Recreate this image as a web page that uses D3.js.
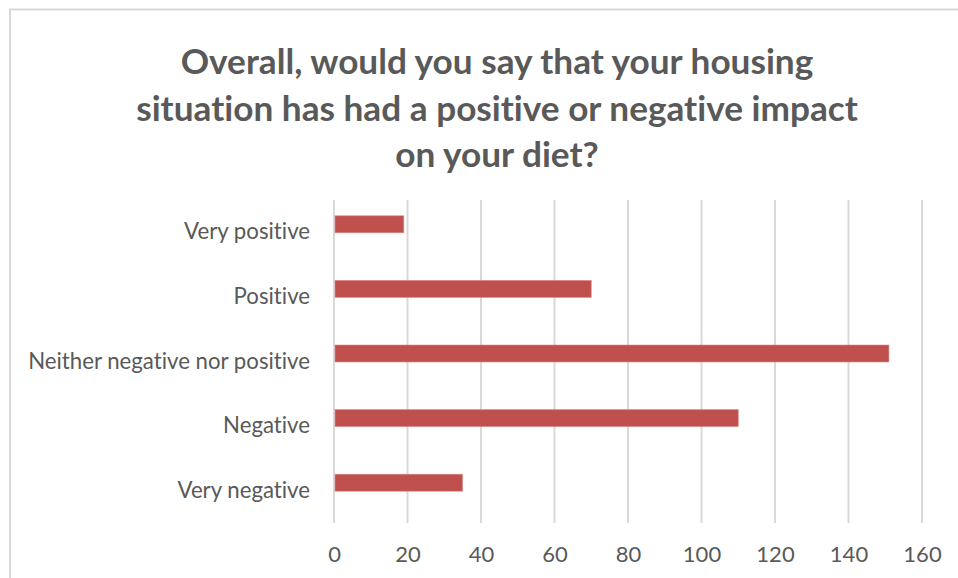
<!DOCTYPE html>
<html>
<head>
<meta charset="utf-8">
<script src="https://cdn.jsdelivr.net/npm/d3@7"></script>
<style>
  html, body { margin: 0; padding: 0; background: #fff; }
  svg { display: block; font-variant-ligatures: none; }
</style>
</head>
<body>
<svg id="chart" width="958" height="578"></svg>
<script>
// Survey responses: impact of housing situation on diet
const categories = ["Very positive", "Positive", "Neither negative nor positive", "Negative", "Very negative"];
const counts = [19, 70, 151, 110, 35];
const xTicks = [0, 20, 40, 60, 80, 100, 120, 140, 160];
const titleLines = [
  "Overall, would you say that your housing",
  "situation has had a positive or negative impact",
  "on your diet?"
];

const W = 958, H = 578;
const svg = d3.select("#chart");
const textColor = "#595959";
const gridColor = "#d9d9d9";
const barColor = "#c0504d";
const font = "Lato, 'Open Sans', sans-serif";

// chart frame
svg.append("rect")
  .attr("x", 10).attr("y", 9.5)
  .attr("width", W + 20).attr("height", H + 20)
  .attr("fill", "#fff")
  .attr("stroke", gridColor).attr("stroke-width", 2);

// title, sized so the widest line spans the chart header
const titleCenter = 497;
const tl = svg.append("g").selectAll("text").data(titleLines).join("text")
  .attr("x", titleCenter)
  .attr("y", (d, i) => 74 + i * 46.5)
  .attr("text-anchor", "middle")
  .attr("font-family", font)
  .attr("font-weight", "bold")
  .attr("font-size", 36)
  .attr("fill", textColor)
  .text(d => d);
const widest = d3.max(tl.nodes(), n => n.getComputedTextLength());
tl.attr("font-size", 36 * 722 / widest);

// scales
const x = d3.scaleLinear().domain([0, 160]).range([334, 922]);
const y = d3.scaleBand().domain(categories).range([200, 523]);
const barH = 17;
const barShift = -8;

// vertical gridlines
svg.append("g").selectAll("line").data(xTicks).join("line")
  .attr("x1", d => x(d)).attr("x2", d => x(d))
  .attr("y1", 200).attr("y2", 523)
  .attr("stroke", gridColor).attr("stroke-width", 2);

// bars
svg.append("g").selectAll("rect").data(categories).join("rect")
  .attr("x", x(0) + 1)
  .attr("y", (d) => y(d) + y.bandwidth() / 2 - barH / 2 + barShift)
  .attr("width", (d, i) => x(counts[i]) - x(0) - 1)
  .attr("height", barH)
  .attr("fill", barColor)
  .attr("stroke", "#d98a88").attr("stroke-width", 0.6);

// x axis labels
const xAxis = d3.axisBottom(x).tickValues(xTicks).tickSize(0).tickPadding(0);
const gx = svg.append("g").attr("transform", "translate(0,546)").call(xAxis);
gx.select(".domain").remove();
gx.selectAll("text")
  .attr("dy", "0.71em")
  .attr("font-family", font)
  .attr("font-size", 22)
  .attr("fill", textColor);

// category labels, sized so the longest one fits the left margin
const yAxis = d3.axisLeft(y).tickSize(0).tickPadding(0);
const gy = svg.append("g").attr("transform", "translate(310,0)").call(yAxis);
gy.select(".domain").remove();
const labels = gy.selectAll("text")
  .attr("font-family", font)
  .attr("font-size", 20)
  .attr("fill", textColor);
const longest = d3.max(labels.nodes(), n => n.getComputedTextLength());
labels.attr("font-size", 20 * 282 / longest);
</script>
</body>
</html>
